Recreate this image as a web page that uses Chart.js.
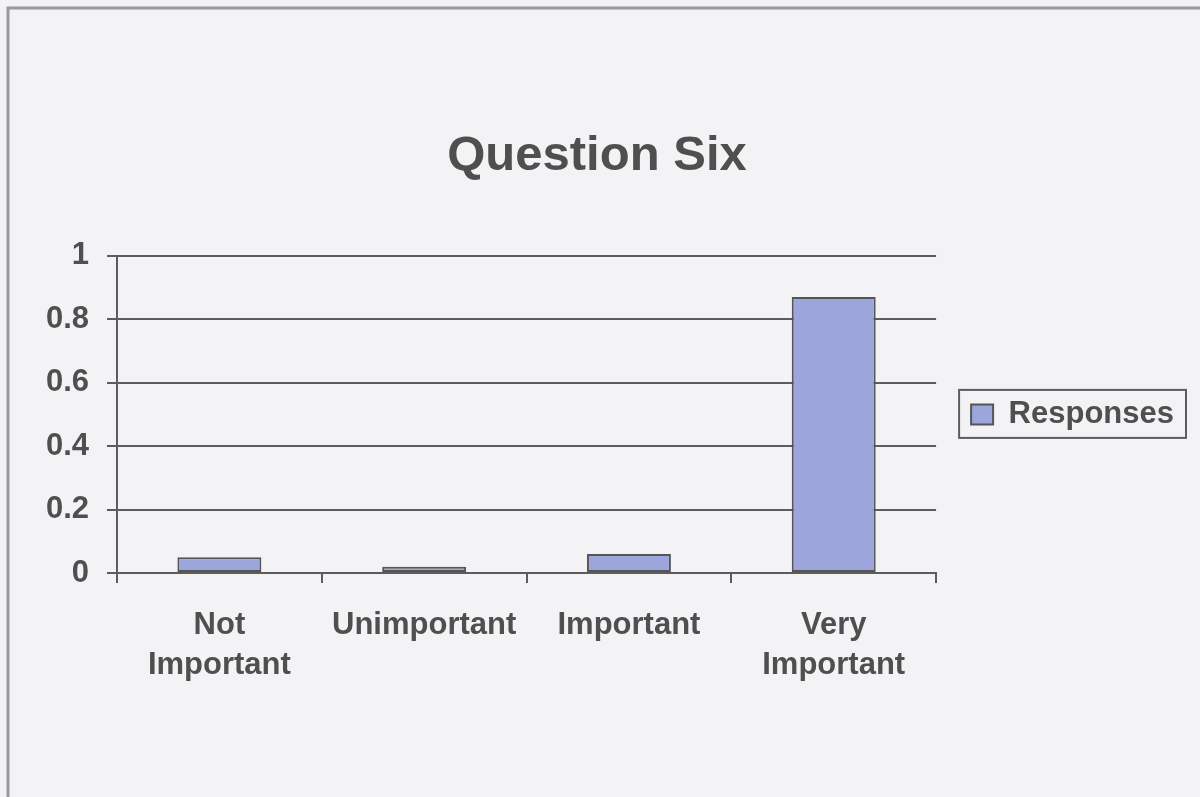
<!DOCTYPE html>
<html>
<head>
<meta charset="utf-8">
<title>Question Six</title>
<script src="https://cdn.jsdelivr.net/npm/chart.js@4"></script>
<style>
    html, body { margin: 0; padding: 0; background: #f3f3f5; }
    canvas { display: block; }
</style>
</head>
<body>
<canvas id="questionChart" width="1200" height="797"></canvas>
<script>
// Survey answers for question six
const categories = [['Not', 'Important'], 'Unimportant', 'Important', ['Very', 'Important']];
const responses = [0.05, 0.02, 0.06, 0.87];
const yTicks = [0, 0.2, 0.4, 0.6, 0.8, 1];

const INK = '#4f4f4f';
const LINE = '#5c5c5c';
const FONT = "'Liberation Sans', Arial, sans-serif";

/**
 * Paper background plus the frame line along the top/left edge
 */
const paperPlugin = {
    id: 'paper',
    beforeDraw(chart) {
        const ctx = chart.ctx;
        ctx.save();
        ctx.fillStyle = '#f3f3f5';
        ctx.fillRect(0, 0, chart.width, chart.height);
        ctx.strokeStyle = '#9a9a9a';
        ctx.lineWidth = 3;
        ctx.strokeRect(8, 8, chart.width + 20, chart.height + 20);
        ctx.restore();
    }
};

/**
 * Box drawn round the legend entry
 */
const legendFramePlugin = {
    id: 'legendFrame',
    afterDraw(chart) {
        const legend = chart.legend;
        if (!legend || !legend.legendHitBoxes || !legend.legendHitBoxes.length) return;
        const hb = legend.legendHitBoxes[0];
        const ctx = chart.ctx;
        ctx.save();
        ctx.strokeStyle = LINE;
        ctx.lineWidth = 2;
        ctx.strokeRect(hb.left - 12, hb.top - 9, hb.width + 24, hb.height + 17);
        ctx.restore();
    }
};

function initChart() {
    const ctx = document.getElementById('questionChart').getContext('2d');

    Chart.defaults.font.family = FONT;
    Chart.defaults.color = INK;

    new Chart(ctx, {
        type: 'bar',
        data: {
            labels: categories,
            datasets: [{
                label: 'Responses',
                data: responses,
                backgroundColor: '#9ca5dc',
                borderColor: '#555555',
                borderWidth: 2,
                borderSkipped: false,
                categoryPercentage: 1,
                barPercentage: 0.41
            }]
        },
        options: {
            responsive: false,
            animation: false,
            layout: {
                padding: { left: 10, right: 16, top: 0, bottom: 0 }
            },
            plugins: {
                title: {
                    display: true,
                    text: 'Question Six',
                    color: INK,
                    font: { size: 49, weight: 'bold' },
                    padding: { top: 127, bottom: 70 }
                },
                legend: {
                    display: true,
                    position: 'right',
                    fullSize: false,
                    labels: {
                        color: INK,
                        boxWidth: 22,
                        boxHeight: 20,
                        padding: 35,
                        font: { size: 31, weight: 'bold' }
                    }
                },
                tooltip: { enabled: false }
            },
            scales: {
                y: {
                    min: 0,
                    max: 1,
                    afterBuildTicks: function(scale) {
                        scale.ticks = yTicks.map(v => ({ value: v }));
                    },
                    afterFit: function(scale) {
                        scale.width = 107;
                    },
                    ticks: {
                        color: INK,
                        padding: 18,
                        font: { size: 31, weight: 'bold' },
                        callback: v => String(v)
                    },
                    grid: {
                        color: LINE,
                        lineWidth: 2,
                        tickLength: 10
                    },
                    border: { color: LINE, width: 2 }
                },
                x: {
                    afterFit: function(scale) {
                        scale.height = 224;
                    },
                    ticks: {
                        color: INK,
                        padding: 22,
                        maxRotation: 0,
                        autoSkip: false,
                        font: { size: 31, weight: 'bold', lineHeight: 1.3 }
                    },
                    grid: {
                        offset: true,
                        drawOnChartArea: false,
                        color: LINE,
                        lineWidth: 2,
                        tickLength: 10
                    },
                    border: { color: LINE, width: 2 }
                }
            }
        },
        plugins: [paperPlugin, legendFramePlugin]
    });
}

initChart();
</script>
</body>
</html>
